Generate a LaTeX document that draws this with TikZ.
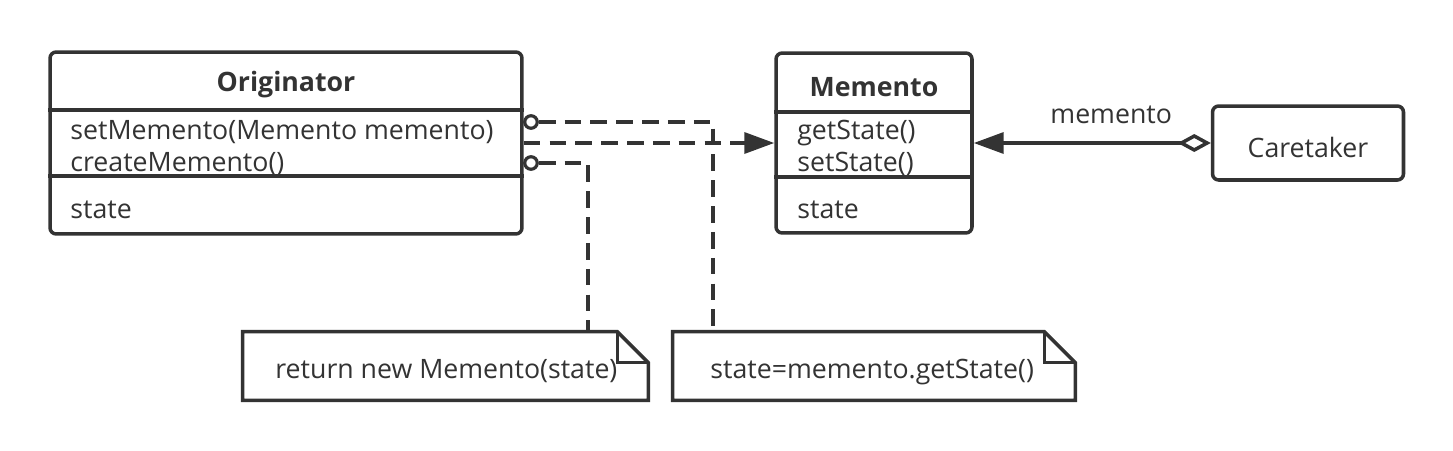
\documentclass[tikz,border=0pt]{standalone}
\usepackage{fontspec}
\setmainfont{Open Sans}
\usepackage{tikz}
\usetikzlibrary{arrows.meta,calc}
\definecolor{umlgray}{HTML}{333333}
\tikzstyle{classbox} = [draw=umlgray, line width=2pt, rectangle,
    rounded corners=3.5pt, inner sep=0pt]
\tikzstyle{classname} = [text=umlgray, inner sep=0pt, font=\fontsize{15.2pt}{18pt}\selectfont\bfseries]
\tikzstyle{member} = [text=umlgray, inner sep=0pt, anchor=base west,
    font=\fontsize{15.2pt}{18pt}\selectfont]
\tikzstyle{port} = [draw=umlgray, line width=1.8pt, circle, fill=white,
    inner sep=0pt, minimum size=0.25cm]
\tikzstyle{dep} = [draw=umlgray, line width=2pt, dash pattern=on 9.5pt off 5.2pt]
\tikzstyle{notebox} = [inner sep=0pt, rectangle]

\begin{document}
\begin{tikzpicture}[x=0.02cm, y=-0.02cm]
                \useasboundingbox (0,0) rectangle (1453,450);
                % classes
                \node [classbox, minimum width=9.44cm, minimum height=3.64cm] (orig) at (286,143) {};
                \node [classname] (origname) at (286,85) {Originator};
                \draw [umlgray, line width=2pt] (orig.west |- 0,110) -- (orig.east |- 0,110);
                \draw [umlgray, line width=2pt] (orig.west |- 0,176) -- (orig.east |- 0,176);
                \node [member] (setmem) at (70,139) {setMemento(Memento memento)};
                \node [member] (createmem) at (70,171) {createMemento()};
                \node [member] (origstate) at (70,218) {state};

                \node [classbox, minimum width=3.92cm, minimum height=3.6cm] (memento) at (874,143) {};
                \node [classname] (memname) at (874,87) {Memento};
                \draw [umlgray, line width=2pt] (memento.west |- 0,112) -- (memento.east |- 0,112);
                \draw [umlgray, line width=2pt] (memento.west |- 0,177) -- (memento.east |- 0,177);
                \node [member] (getst) at (797,139) {getState()};
                \node [member] (setst) at (797,171) {setState()};
                \node [member] (memstate) at (797,218) {state};

                \node [classbox, minimum width=3.82cm, minimum height=1.48cm] (caretaker) at (1308,143) {};
                \node [member, anchor=base] (caretext) at (1308,157) {Caretaker};

                % notes
                \node [notebox, minimum width=8.1cm, minimum height=1.36cm] (note1) at (445.5,366) {};
                \draw [umlgray, line width=2pt] (note1.north west) -- ($(note1.north east)+(-31,0)$)
                    -- ($(note1.north east)+(0,31)$) -- (note1.south east) -- (note1.south west) -- cycle;
                \draw [umlgray, line width=2pt] ($(note1.north east)+(-31,0)$) -- ($(note1.north east)+(-31,31)$)
                    -- ($(note1.north east)+(0,31)$);
                \node [member] (note1text) at (275,378) {return new Memento(state)};

                \node [notebox, minimum width=8.04cm, minimum height=1.36cm] (note2) at (874,366) {};
                \draw [umlgray, line width=2pt] (note2.north west) -- ($(note2.north east)+(-31,0)$)
                    -- ($(note2.north east)+(0,31)$) -- (note2.south east) -- (note2.south west) -- cycle;
                \draw [umlgray, line width=2pt] ($(note2.north east)+(-31,0)$) -- ($(note2.north east)+(-31,31)$)
                    -- ($(note2.north east)+(0,31)$);
                \node [member] (note2text) at (710,378) {state=memento.getState()};

                % connectors
                \node [port] (portset) at (531,122) {};
                \node [port] (portcreate) at (531,163) {};
                \coordinate (bendset) at (713,122);
                \coordinate (bendcreate) at (588,163);
                \draw [dep] (portset.east) -- (bendset) -- (bendset |- note2.north);
                \draw [dep] (portcreate.east) -- (bendcreate) -- (bendcreate |- note1.north);
                \draw [dep, -{Triangle[length=0.6cm, width=0.42cm]}] (orig.east) -- (memento.west);
                \draw [umlgray, line width=2pt,
                    {Diamond[open, length=0.66cm, width=0.36cm]}-{Triangle[length=0.6cm, width=0.42cm]}]
                    (caretaker.west) -- node [member, anchor=base, pos=0.42, yshift=0.4cm] (rolename) {memento} (memento.east);
            \end{tikzpicture}
\end{document}
